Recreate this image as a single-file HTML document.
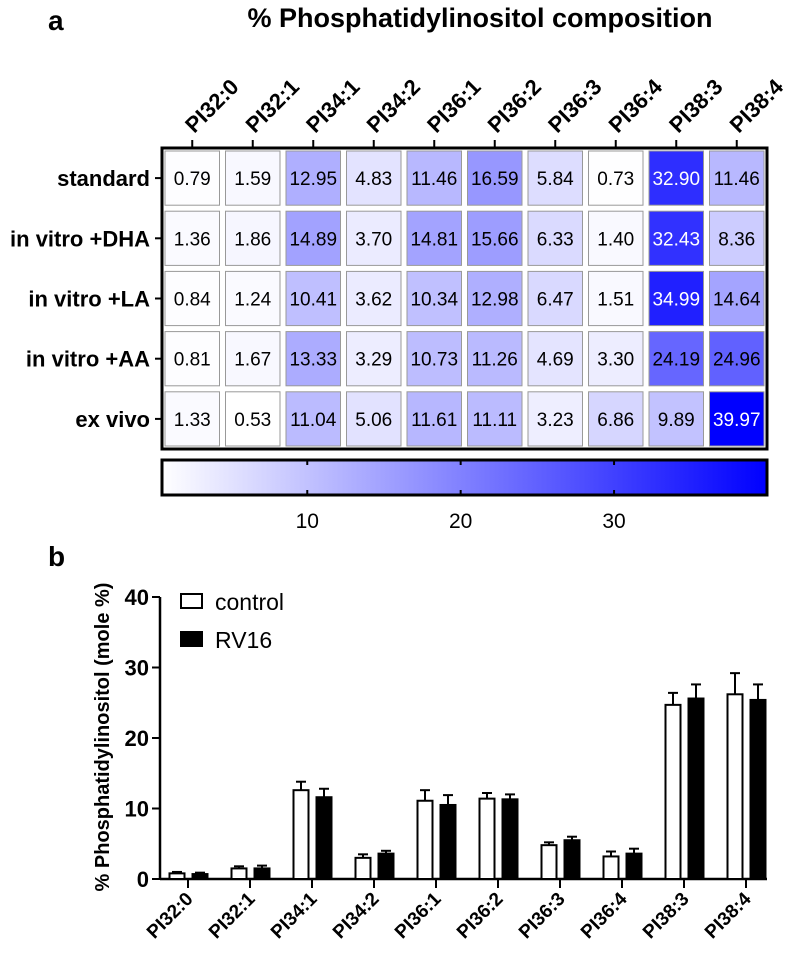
<!DOCTYPE html>
<html><head><meta charset="utf-8"><style>
body{margin:0;background:#fff;}
svg{display:block;font-family:"Liberation Sans",Arial,sans-serif;}
</style></head><body>
<svg id="fig" width="800" height="959" viewBox="0 0 800 959">
<text x="48" y="30" font-size="28" font-weight="bold">a</text>
<text x="480" y="27" font-size="27" font-weight="bold" text-anchor="middle">% Phosphatidylinositol composition</text>
<g id="hm"></g>
<g id="cb"></g>
<text x="48" y="566" font-size="28" font-weight="bold">b</text>
<g id="bc"></g>
</svg>
<script>
const species=["PI32:0","PI32:1","PI34:1","PI34:2","PI36:1","PI36:2","PI36:3","PI36:4","PI38:3","PI38:4"];
const conditions=["standard","in vitro +DHA","in vitro +LA","in vitro +AA","ex vivo"];
const hmStandard=[0.79,1.59,12.95,4.83,11.46,16.59,5.84,0.73,32.90,11.46];
const hmDHA=[1.36,1.86,14.89,3.70,14.81,15.66,6.33,1.40,32.43,8.36];
const hmLA=[0.84,1.24,10.41,3.62,10.34,12.98,6.47,1.51,34.99,14.64];
const hmAA=[0.81,1.67,13.33,3.29,10.73,11.26,4.69,3.30,24.19,24.96];
const hmExVivo=[1.33,0.53,11.04,5.06,11.61,11.11,3.23,6.86,9.89,39.97];
const cbTicks=[10,20,30];
const controlMean=[0.8,1.5,12.6,3.0,11.1,11.4,4.8,3.2,24.7,26.2];
const controlErr=[0.2,0.3,1.2,0.5,1.5,0.8,0.4,0.7,1.7,3.0];
const rv16Mean=[0.7,1.5,11.6,3.6,10.5,11.3,5.5,3.6,25.6,25.4];
const rv16Err=[0.2,0.4,1.2,0.4,1.4,0.7,0.5,0.7,2.0,2.2];
const yTicks=[0,10,20,30,40];

const NS="http://www.w3.org/2000/svg";
function mk(tag,attrs,parent,txt){const e=document.createElementNS(NS,tag);for(const k in attrs)e.setAttribute(k,attrs[k]);if(txt!==undefined)e.textContent=txt;parent.appendChild(e);return e;}
const rows=[hmStandard,hmDHA,hmLA,hmAA,hmExVivo];
const all=rows.flat();const vmin=Math.min(...all),vmax=Math.max(...all);
const L=162,R=767,T=148,B=449;
const cw=(R-L)/species.length,rh=(B-T)/conditions.length;
function col(v){const t=(v-vmin)/(vmax-vmin);const c=Math.round(255*(1-t));return `rgb(${c},${c},255)`;}
const hm=document.getElementById('hm');
rows.forEach((row,r)=>{
  const yl=mk('text',{x:L-12,y:T+rh*(r+0.5)+8,'font-size':22,'font-weight':'bold','text-anchor':'end'},hm,conditions[r]);
  
  
  mk('line',{x1:L-7,x2:L,y1:T+rh*(r+0.5),y2:T+rh*(r+0.5),stroke:'#000','stroke-width':2},hm);
  row.forEach((v,c)=>{
    const x=L+c*cw,y=T+r*rh;
    const rc=mk('rect',{x:x+3,y:y+3,width:cw-6,height:rh-6,fill:col(v),stroke:'#999','stroke-width':1},hm);
    
    
    const tx=mk('text',{x:x+cw/2,y:y+rh/2+7,'font-size':19,'text-anchor':'middle',fill:v>28?'#fff':'#000'},hm,v.toFixed(2));
    
    
  });
});
mk('rect',{x:L,y:T,width:R-L,height:B-T,fill:'none',stroke:'#000','stroke-width':3},hm);
species.forEach((s,c)=>{
  const x=L+cw*(c+0.5);
  mk('line',{x1:x,x2:x,y1:T-8,y2:T,stroke:'#000','stroke-width':2},hm);
  const t=mk('text',{x:x+2,y:T-14,'font-size':22,'font-weight':'bold',transform:`rotate(-45 ${x+2} ${T-14})`},hm,s);
  
  
});
const cb=document.getElementById('cb');
const defs=mk('defs',{},cb);const g=mk('linearGradient',{id:'grad',x1:0,x2:1,y1:0,y2:0},defs);
mk('stop',{offset:0,'stop-color':'#fff'},g);mk('stop',{offset:1,'stop-color':'#00f'},g);
const CT=460,CB=495;
mk('rect',{x:L,y:CT,width:R-L,height:CB-CT,fill:'url(#grad)',stroke:'#000','stroke-width':3},cb);
const cx=v=>L+(v-vmin)/(vmax-vmin)*(R-L);
cbTicks.forEach(v=>{
  mk('line',{x1:cx(v),x2:cx(v),y1:CT,y2:CT+5,stroke:'#000','stroke-width':2},cb);
  mk('line',{x1:cx(v),x2:cx(v),y1:CB-5,y2:CB,stroke:'#000','stroke-width':2},cb);
  const t=mk('text',{x:cx(v),y:CB+33,'font-size':21,'text-anchor':'middle'},cb,v);
  
  
});
const bc=document.getElementById('bc');
const X0=160,X1=767,Y0=879,Y40=597;
const ys=v=>Y0-(v/40)*(Y0-Y40);
const step=62;const cxs=i=>188+i*step;const bw=15;
mk('line',{x1:X0,x2:X0,y1:Y40,y2:Y0,stroke:'#000','stroke-width':2.5},bc);
mk('line',{x1:X0,x2:X1,y1:Y0,y2:Y0,stroke:'#000','stroke-width':2.5},bc);
yTicks.forEach(v=>{
  mk('line',{x1:X0-8,x2:X0,y1:ys(v),y2:ys(v),stroke:'#000','stroke-width':2},bc);
  const t=mk('text',{x:X0-11,y:ys(v)+8,'font-size':22,'font-weight':'bold','text-anchor':'end'},bc,v);
  
  
});
const yt=mk('text',{x:109,y:737,'font-size':20,'font-weight':'bold','text-anchor':'middle',transform:'rotate(-90 109 737)'},bc,'% Phosphatidylinositol (mole %)');


function bar(x,v,e,fill,name){
  const y=ys(v);
  mk('line',{x1:x,x2:x,y1:ys(v+e),y2:y,stroke:'#000','stroke-width':2},bc);
  mk('line',{x1:x-5,x2:x+5,y1:ys(v+e),y2:ys(v+e),stroke:'#000','stroke-width':2},bc);
  const r=mk('rect',{x:x-bw/2,y:y,width:bw,height:Y0-y,fill:fill,stroke:'#000','stroke-width':2},bc);
  
  
}
species.forEach((s,i)=>{
  const x=cxs(i);
  bar(x-11,controlMean[i],controlErr[i],'#fff','bar-control');
  bar(x+12,rv16Mean[i],rv16Err[i],'#000','bar-rv16');
  mk('line',{x1:x,x2:x,y1:Y0,y2:Y0+9,stroke:'#000','stroke-width':2},bc);
  const t=mk('text',{x:x+6,y:Y0+21,'font-size':19,'font-weight':'bold','text-anchor':'end',transform:`rotate(-45 ${x+6} ${Y0+21})`},bc,s);
  
  
});
const l1=mk('rect',{x:181,y:594,width:21,height:14,fill:'#fff',stroke:'#000','stroke-width':2},bc);


const l2=mk('rect',{x:181,y:632,width:21,height:14,fill:'#000',stroke:'#000','stroke-width':2},bc);


const lt1=mk('text',{x:215,y:610,'font-size':23},bc,'control');


const lt2=mk('text',{x:215,y:648,'font-size':23},bc,'RV16');


</script>
</body></html>
